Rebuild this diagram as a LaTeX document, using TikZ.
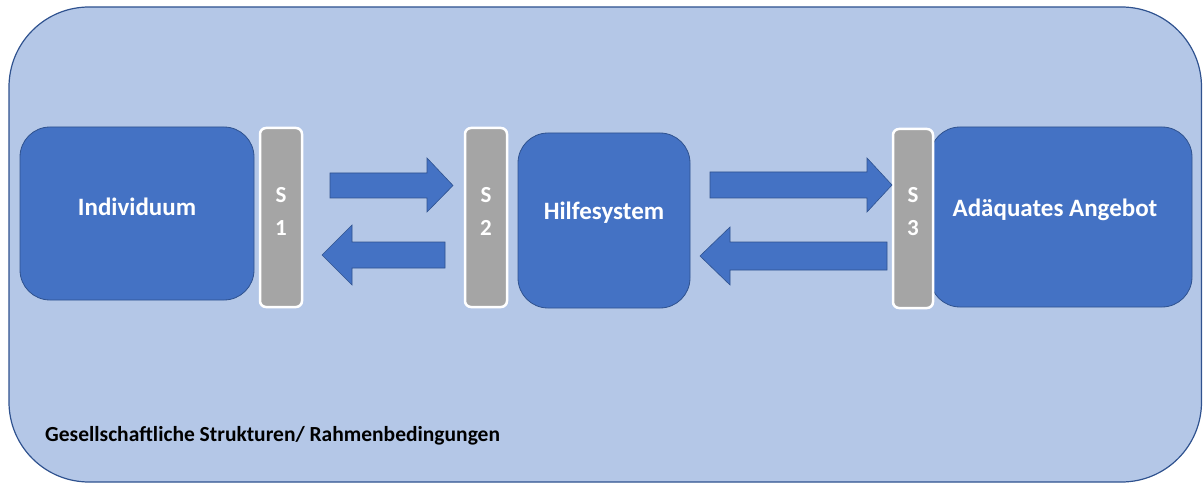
\documentclass[tikz,border=0pt]{standalone}
\usepackage{fontspec}
\setmainfont{Carlito}
\definecolor{outerfill}{HTML}{B4C7E7}
\definecolor{darkline}{HTML}{2F528F}
\definecolor{boxfill}{HTML}{4472C4}
\definecolor{barfill}{HTML}{A5A5A5}
\tikzset{
  frame/.style={draw=darkline, line width=1.2pt, fill=outerfill, rounded corners=80pt},
  bigbox/.style={draw=darkline, line width=0.8pt, fill=boxfill, rounded corners=30pt},
  bar/.style={draw=white, line width=2.5pt, fill=barfill, rounded corners=6pt},
  fatarrow/.style={draw=darkline, line width=0.6pt, fill=boxfill},
  boxtext/.style={text=white, font=\bfseries\fontsize{25}{30}\selectfont, inner sep=0pt},
  bartext/.style={text=white, font=\bfseries\fontsize{23}{33}\selectfont, align=center, inner sep=0pt},
  bottomtext/.style={text=black, font=\bfseries\fontsize{21.5}{26}\selectfont, inner sep=0pt, anchor=west}
}
\begin{document}
\begin{tikzpicture}[x=1pt,y=-1pt]
\useasboundingbox (0,0) rectangle (1203,484);
\draw[frame] (9,7) rectangle (1201.5,482);
% boxes
\node[bigbox, minimum width=234pt, minimum height=173pt] (ind) at (137,213.5) {};
\node[bigbox, minimum width=172pt, minimum height=175pt] (hilfe) at (604,220.5) {};
\node[bigbox, minimum width=262pt, minimum height=180pt] (ang) at (1061,217) {};
% bars
\node[bar, minimum width=42pt, minimum height=179pt] (s1) at (281,217.5) {};
\node[bar, minimum width=42pt, minimum height=179pt] (s2) at (486,217.5) {};
\node[bar, minimum width=40pt, minimum height=179pt] (s3) at (913,218.5) {};
% texts
\node[boxtext] (tind) at (137,207) {Individuum};
\node[boxtext] (thilfe) at (604,213) {Hilfesystem};
\node[boxtext] (tang) at (1055,210) {Adäquates Angebot};
\node[bartext] (ts1) at (281,211.5) {S\\1};
\node[bartext] (ts2) at (486,211.5) {S\\2};
\node[bartext] (ts3) at (913,211.5) {S\\3};
\node[bottomtext] (tbottom) at (45,436) {Gesellschaftliche Strukturen/ Rahmenbedingungen};
% arrows
\draw[fatarrow] (330,173) -- (427,173) -- (427,158) -- (453,185.5) -- (427,212) -- (427,198) -- (330,198) -- cycle;
\draw[fatarrow] (445,242) -- (352,242) -- (352,225) -- (322,255) -- (352,285) -- (352,268) -- (445,268) -- cycle;
\draw[fatarrow] (710,172) -- (867,172) -- (867,158) -- (892,185) -- (867,212) -- (867,198) -- (710,198) -- cycle;
\draw[fatarrow] (887,242) -- (730,242) -- (730,227) -- (700,256) -- (730,285) -- (730,270) -- (887,270) -- cycle;
\end{tikzpicture}
\end{document}
